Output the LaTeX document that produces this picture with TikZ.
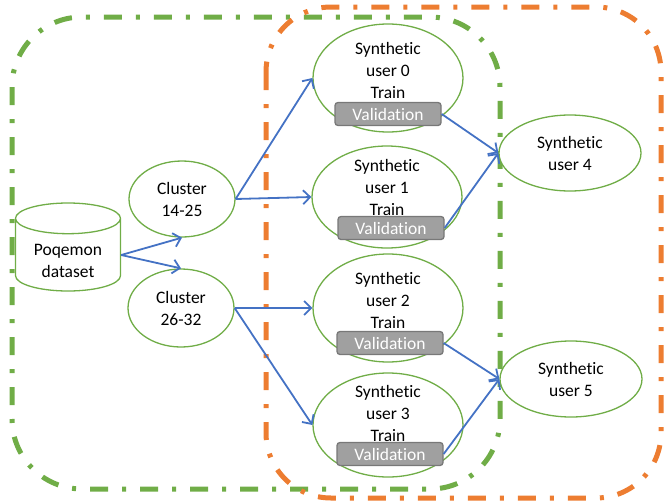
\documentclass[tikz,border=0pt]{standalone}
\usepackage{fontspec}
\setmainfont{Carlito}[Ligatures=NoCommon]
\usetikzlibrary{shapes.geometric, arrows.meta, positioning}
\definecolor{leafgreen}{RGB}{112,173,71}
\definecolor{pumpkin}{RGB}{237,125,49}
\definecolor{linkblue}{RGB}{68,114,196}
\definecolor{valgray}{RGB}{160,160,160}
\definecolor{valedge}{RGB}{120,120,120}

\begin{document}
\begin{tikzpicture}[x=1pt, y=-1pt,
  every node/.style={font=\fontsize{17.5}{22}\selectfont, align=center, inner sep=0pt},
  blob/.style={ellipse, draw=leafgreen, line width=1.3pt, fill=white},
  valbox/.style={rectangle, rounded corners=3pt, draw=valedge, fill=valgray, text=white,
    line width=1.3pt, minimum width=106, minimum height=23},
  link/.style={linkblue, line width=1.8pt, -{Straight Barb[length=7pt, width=14pt]}},
  frame/.style={line width=5pt, dash pattern=on 18pt off 14pt on 4pt off 14pt, rounded corners=#1}
]
  \useasboundingbox (0,0) rectangle (665,504);

  % the two groups
  \draw[frame=70pt, leafgreen] (12,17) rectangle (500,489);
  \draw[frame=65pt, pumpkin] (266,7) rectangle (661,498);

  % data and clusters
  \node[cylinder, shape border rotate=90, aspect=0.45, draw=leafgreen, line width=1.3pt, fill=white,
    minimum width=105, minimum height=88] (data) at (68,255) {\phantom{Poqemon}};
  \node (datat) at (68,261) {Poqemon\\dataset};
  \node[blob, minimum width=106, minimum height=76] (c1) at (182,199) {Cluster\\14-25};
  \node[blob, minimum width=106, minimum height=78] (c2) at (181,308) {Cluster\\26-32};

  % synthetic users with train / validation split
  \node[blob, minimum width=150, minimum height=108] (u0) at (388,78) {};
  \node (u0t) at (388,70) {Synthetic\\user 0\\Train};
  \node[valbox] (v0) at (388,114) {Validation};

  \node[blob, minimum width=150, minimum height=102] (u1) at (387,197) {};
  \node (u1t) at (387,187) {Synthetic\\user 1\\Train};
  \node[valbox] (v1) at (391,228) {Validation};

  \node[blob, minimum width=150, minimum height=108] (u2) at (388,308) {};
  \node (u2t) at (388,300) {Synthetic\\user 2\\Train};
  \node[valbox] (v2) at (390,343) {Validation};

  \node[blob, minimum width=150, minimum height=104] (u3) at (388,425) {};
  \node (u3t) at (388,413) {Synthetic\\user 3\\Train};
  \node[valbox] (v3) at (390,454) {Validation};

  \node[blob, minimum width=142, minimum height=76] (u4) at (570,153) {Synthetic\\user 4};
  \node[blob, minimum width=142, minimum height=76] (u5) at (571,379) {Synthetic\\user 5};

  % links
  \draw[link] (data.east) -- (c1.south);
  \draw[link] (data.east) -- (c2.north);
  \draw[link] (c1.east) -- (u0.west);
  \draw[link] (c1.east) -- (u1.west);
  \draw[link] (c2.east) -- (u2.west);
  \draw[link] (c2.east) -- (u3.west);
  \draw[link] (v0.east) -- (u4.west);
  \draw[link] (v1.east) -- (u4.west);
  \draw[link] (v2.east) -- (u5.west);
  \draw[link] (v3.east) -- (u5.west);
\end{tikzpicture}
\end{document}
